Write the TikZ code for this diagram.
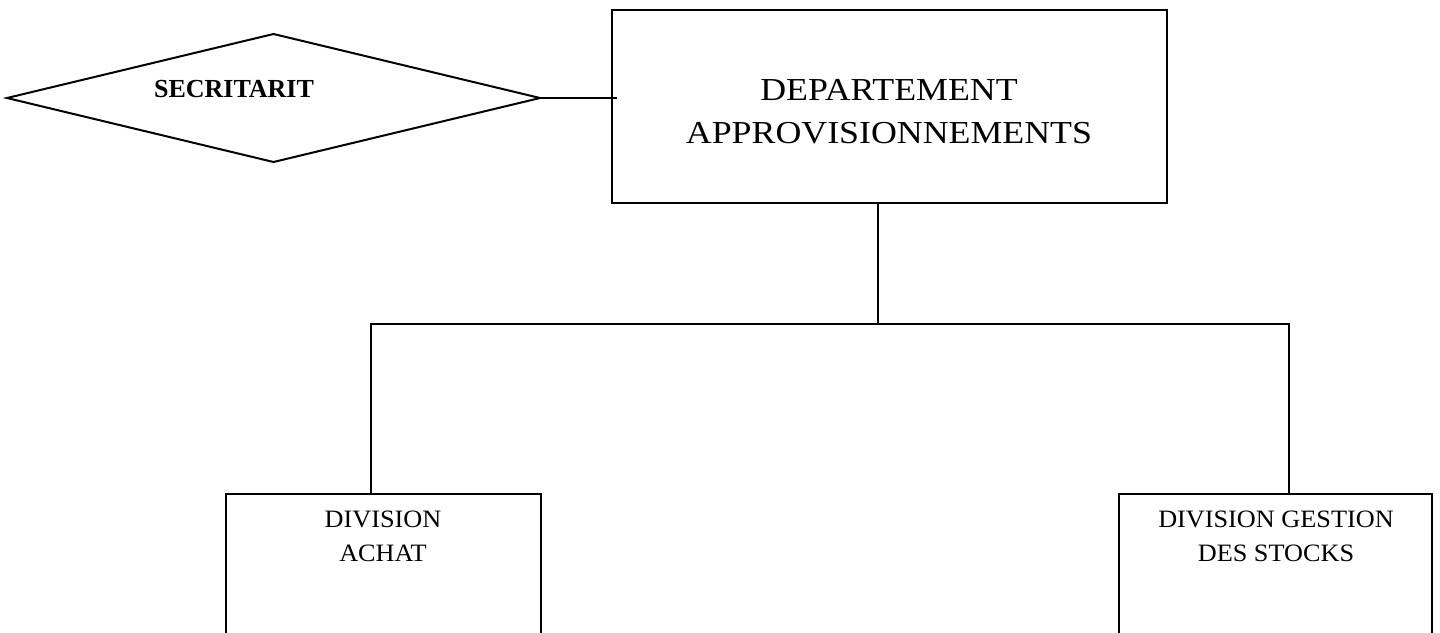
\documentclass[tikz,border=0pt]{standalone}
\usepackage{fontspec}
\setmainfont{Liberation Serif}
\newfontfamily\deptfont[FakeStretch=1.12]{Liberation Serif}
\newfontfamily\divfont[FakeStretch=1.05]{Liberation Serif}
\usetikzlibrary{shapes.geometric}
\begin{document}
\begin{tikzpicture}[x=0.5pt,y=-0.5pt,
  line width=1pt, line join=miter,
  unitbox/.style={draw, rectangle, inner sep=0pt, outer sep=0pt},
  rhombus/.style={draw, diamond, inner sep=0pt, outer sep=0pt,
    minimum width=266.5pt, minimum height=64pt},
  depttext/.style={inner sep=0pt, align=center,
    font=\deptfont\fontsize{16}{21.5}\selectfont},
  divtext/.style={inner sep=0pt, align=center,
    font=\divfont\fontsize{12.5}{17}\selectfont},
  sectext/.style={inner sep=0pt, font=\bfseries\fontsize{13}{15}\selectfont},
  link/.style={draw, line width=1pt}]
\useasboundingbox (0,0) rectangle (1440,632);
\clip (0,0) rectangle (1440,632);

% secretariat (diamond) and its label
\node[rhombus] (sec) at (273.5,98) {};
\node[sectext] (sectxt) at (234,89) {SECRITARIT};

% department box
\node[unitbox, minimum width=277.5pt, minimum height=96.5pt] (dep) at (889.5,106.5) {};
\node[depttext] (deptxt) at (889,111.5) {DEPARTEMENT\\APPROVISIONNEMENTS};

% division boxes (open at the bottom edge of the page)
\node[unitbox, anchor=north, minimum width=157.5pt, minimum height=90pt] (achat) at (383.5,494) {};
\node[divtext] (achattxt) at (383,536) {DIVISION\\ACHAT};
\node[unitbox, anchor=north, minimum width=156.5pt, minimum height=90pt] (stock) at (1275.5,494) {};
\node[divtext] (stocktxt) at (1276,536) {DIVISION GESTION\\DES STOCKS};

% connectors
\coordinate (secend) at ([xshift=2.5pt]sec.east -| dep.west);
\draw[link] (sec.east) -- (secend);
\coordinate (busM) at (878,324);
\coordinate (busL) at (371,324);
\coordinate (busR) at (1289,324);
\draw[link] (busM |- dep.south) -- (busM);
\draw[link] (busL |- achat.north) -- (busL) -- (busR) -- (busR |- stock.north);
\end{tikzpicture}
\end{document}
